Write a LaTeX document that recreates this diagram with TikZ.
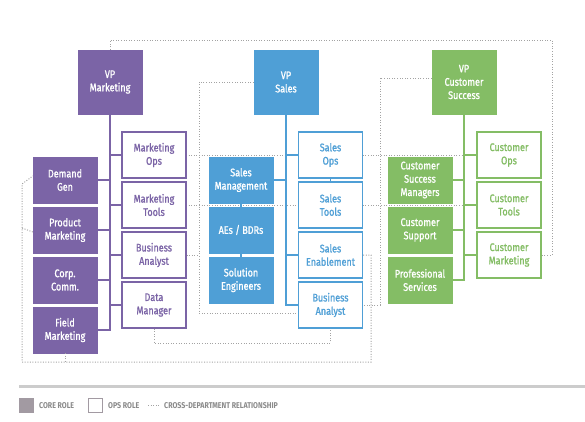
\documentclass[tikz,border=0pt]{standalone}
\usepackage{fontspec}
\setmainfont{Fira Sans}[FakeStretch=0.84]
\newfontfamily\boxfont{Fira Sans}[FakeStretch=0.82, FakeBold=1.2]
\definecolor{mkt}{HTML}{7B64A6}
\definecolor{sal}{HTML}{4F9FD6}
\definecolor{cus}{HTML}{84BD65}
\definecolor{dotg}{HTML}{A3A3A3}
\definecolor{leggray}{HTML}{A29AA2}
\definecolor{legtext}{HTML}{8A8A8A}
\definecolor{barg}{HTML}{CCCCCC}
\tikzset{
  box/.style={minimum width=64pt, minimum height=46pt, inner sep=0pt, align=center,
    font=\fontsize{11}{13.3}\boxfont},
  core/.style={box, fill=#1, draw=#1, text=white},
  ops/.style={box, fill=white, draw=#1, line width=1.3pt, text=#1},
  vp/.style={core=#1, minimum height=64pt},
  link/.style={line width=1.3pt, draw=#1},
  cross/.style={draw=dotg, line width=1pt, dash pattern=on 1pt off 1.6pt},
  legtxt/.style={text=legtext, font=\fontsize{8.4}{10}\selectfont\bfseries, anchor=west, inner sep=0pt}
}
\begin{document}
\begin{tikzpicture}[x=1pt,y=-1pt]
\useasboundingbox (0,0) rectangle (585,421);
\coordinate (tl) at (110,40);
\coordinate (tr) at (552,40);
% ---------- cross-department lines (background) ----------
\coordinate (mOpsE) at (186,155);
\coordinate (cOpsW) at (477,155);
\coordinate (mToolsE) at (186,205);
\coordinate (cToolsW) at (477,205);
\draw[cross] (mOpsE) -- (cOpsW);
\draw[cross] (mToolsE) -- (cToolsW);
% ---------- Marketing ----------
\node[vp=mkt] (vpM) at (110,82) {VP\\Marketing};
\node[ops=mkt] (mOps) at (154,155) {Marketing\\Ops};
\node[ops=mkt] (mTools) at (154,205) {Marketing\\Tools};
\node[ops=mkt] (mBA) at (154,255) {Business\\Analyst};
\node[ops=mkt] (mDM) at (154,305) {Data\\Manager};
\node[core=mkt] (dGen) at (65,180) {Demand\\Gen};
\node[core=mkt] (pMkt) at (65,230) {Product\\Marketing};
\node[core=mkt] (cComm) at (65,280) {Corp.\\Comm.};
\node[core=mkt] (fMkt) at (65,330) {Field\\Marketing};
\draw[link=mkt] (vpM.south) |- (fMkt.east);
\foreach \n in {mOps,mTools,mBA,mDM} \draw[link=mkt] (\n.west) -- (\n.west -| vpM.south);
\foreach \n in {dGen,pMkt,cComm} \draw[link=mkt] (\n.east) -- (\n.east -| vpM.south);
% ---------- Sales ----------
\node[vp=sal] (vpS) at (286,82) {VP\\Sales};
\node[ops=sal] (sOps) at (330.5,155) {Sales\\Ops};
\node[ops=sal] (sTools) at (330.5,205) {Sales\\Tools};
\node[ops=sal] (sEn) at (330.5,255) {Sales\\Enablement};
\node[ops=sal] (sBA) at (330.5,305) {Business\\Analyst};
\node[core=sal] (sMg) at (241,180) {Sales\\Management};
\node[core=sal] (sAE) at (241,230) {AEs / BDRs};
\node[core=sal] (sSE) at (241,280) {Solution\\Engineers};
\draw[link=sal] (vpS.south) |- (sBA.west);
\foreach \n in {sOps,sEn} \draw[link=sal] (\n.west) -- (\n.west -| vpS.south);
\draw[link=sal] (sMg.east) -- (sMg.east -| vpS.south);
\draw[link=sal] (sOps.south) -- (sTools.north);
\draw[link=sal] (sMg.south) -- (sAE.north);
\draw[link=sal] (sAE.south) -- (sSE.north);
% ---------- Customer Success ----------
\node[vp=cus] (vpC) at (464,82) {VP\\Customer\\Success};
\node[ops=cus] (cOps) at (509,155) {Customer\\Ops};
\node[ops=cus] (cTools) at (509,205) {Customer\\Tools};
\node[ops=cus] (cMkt) at (509,255) {Customer\\Marketing};
\node[core=cus] (cCSM) at (420,180) {Customer\\Success\\Managers};
\node[core=cus] (cSup) at (420,230) {Customer\\Support};
\node[core=cus] (cPS) at (420,280) {Professional\\Services};
\draw[link=cus] (vpC.south) |- (cPS.east);
\foreach \n in {cOps,cTools,cMkt} \draw[link=cus] (\n.west) -- (\n.west -| vpC.south);
\foreach \n in {cCSM,cSup} \draw[link=cus] (\n.east) -- (\n.east -| vpC.south);
% ---------- cross-department lines (foreground routes) ----------
\draw[cross] (vpM.north) -- (tl) -- (tr) |- (cMkt.east);
\draw[cross] (vpS.west) -| (199,313) -- (sBA.west |- 0,313);
\draw[cross] (mBA.east) -- (199,255);
\draw[cross] ([yshift=4pt]vpC.west) -| (380,305) -- (sBA.east);
\draw[cross] (sEn.east) -| (371,362) -| (22,184) -- ([yshift=4pt]dGen.west);
\draw[cross] ([yshift=-2pt]pMkt.west) -- (22,228);
\draw[cross] (fMkt.south) -- (65,362);
\draw[cross] (mDM.south) -- (154,343) -| (sBA.south);
% ---------- legend ----------
\draw[barg, line width=3pt] (19,386) -- (585,386);
\node[fill=leggray, minimum size=15pt, inner sep=0pt] (lcore) at (26.5,405.5) {};
\node[legtxt] (lcoret) at (39,405.5) {CORE ROLE};
\node[draw=leggray, line width=0.8pt, fill=white, minimum size=14pt, inner sep=0pt] (lops) at (95,405.5) {};
\node[legtxt] (lopst) at (108,405.5) {OPS ROLE};
\coordinate (ld1) at (148,405.5);
\coordinate (ld2) at (159,405.5);
\draw[cross] (ld1) -- (ld2);
\node[legtxt] (lcrosst) at (164,405.5) {CROSS-DEPARTMENT RELATIONSHIP};
\end{tikzpicture}
\end{document}
